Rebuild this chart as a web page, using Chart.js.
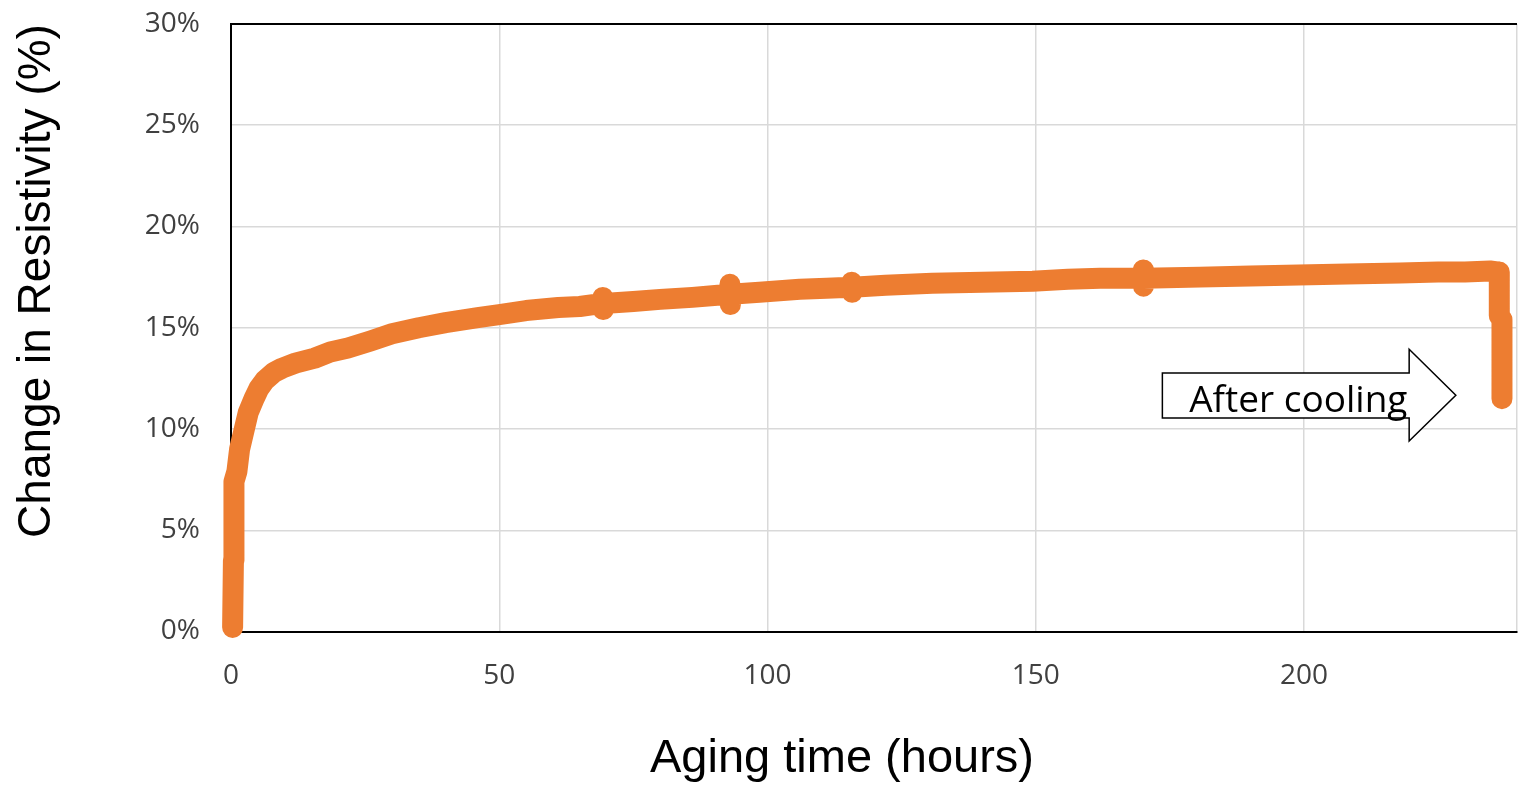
<!DOCTYPE html>
<html>
<head>
<meta charset="utf-8">
<script src="https://cdn.jsdelivr.net/npm/chart.js@4/dist/chart.umd.min.js"></script>
<style>
	html, body { margin: 0; padding: 0; background: #fff; }
	#wrap { width: 1518px; height: 786px; }
</style>
</head>
<body>
<div id="wrap"><canvas id="agingChart" width="1518" height="786"></canvas></div>
<script>
var hours = [0.3, 0.45, 0.55, 1.1, 1.6, 2.4, 3.2, 4.3, 5.2, 6.3, 8.0, 9.5, 12.0, 15.6, 18.5, 21.8, 26.0, 30.0, 35.0, 40.0, 46.0, 50.0, 55.0, 61.0, 65.0,
	69.2, 69.3, 69.35, 69.4, 75.0, 80.0, 86.0, 92.9, 93.0, 93.05, 93.1, 98.5, 106.0, 111.0, 115.6, 115.7, 115.75, 115.8, 122.0, 130.7,
	140.0, 149.4, 156.0, 162.0, 169.9, 170.0, 170.05, 170.1, 180.6, 190.0, 199.0, 208.0, 217.9, 225.0, 230.0, 234.7, 236.4, 236.4, 236.9, 236.9];
var resistivity = [0.2, 3.5, 7.4, 7.9, 9.0, 9.9, 10.8, 11.5, 12.0, 12.4, 12.8, 13.0, 13.25, 13.5, 13.8, 14.0, 14.35, 14.7, 15.0, 15.25, 15.5, 15.65, 15.85, 16.0, 16.05,
	16.2, 16.5, 15.9, 16.2, 16.3, 16.4, 16.5, 16.65, 17.15, 16.15, 16.65, 16.75, 16.9, 16.95, 17.0, 17.25, 16.75, 17.0, 17.1, 17.2,
	17.25, 17.3, 17.4, 17.45, 17.45, 17.85, 17.05, 17.45, 17.5, 17.55, 17.6, 17.65, 17.7, 17.75, 17.75, 17.8, 17.75, 15.6, 15.4, 11.5];
var xTicks = [0, 50, 100, 150, 200];
var yTicks = [0, 5, 10, 15, 20, 25, 30];
var xTitle = "Aging time (hours)";
var yTitle = "Change in Resistivity (%)";
var noteText = "After cooling";

var points = [];
for(var i = 0; i < hours.length; i++){
	points.push({x: hours[i], y: resistivity[i]});
}

// top edge of the plot box, Chart.js only draws left and bottom borders
var framePlugin = {
	id: 'frame',
	beforeDatasetsDraw: function(chart){
		var a = chart.chartArea;
		var ctx = chart.ctx;
		ctx.save();
		ctx.strokeStyle = '#000';
		ctx.lineWidth = 2;
		ctx.beginPath();
		ctx.moveTo(a.left - 1, a.top);
		ctx.lineTo(a.right, a.top);
		ctx.stroke();
		ctx.restore();
	}
};

// block arrow with the "After cooling" note, placed in data units
var arrowPlugin = {
	id: 'arrowNote',
	afterDatasetsDraw: function(chart){
		var xs = chart.scales.x, ys = chart.scales.y;
		var ctx = chart.ctx;
		var left = xs.getPixelForValue(173.6), shaftEnd = xs.getPixelForValue(219.6), tip = xs.getPixelForValue(228.3);
		var top = ys.getPixelForValue(12.76), bottom = ys.getPixelForValue(10.54);
		var headTop = ys.getPixelForValue(13.94), headBottom = ys.getPixelForValue(9.41), mid = ys.getPixelForValue(11.67);
		ctx.save();
		ctx.beginPath();
		ctx.moveTo(left, top);
		ctx.lineTo(shaftEnd, top);
		ctx.lineTo(shaftEnd, headTop);
		ctx.lineTo(tip, mid);
		ctx.lineTo(shaftEnd, headBottom);
		ctx.lineTo(shaftEnd, bottom);
		ctx.lineTo(left, bottom);
		ctx.closePath();
		ctx.fillStyle = '#fff';
		ctx.fill();
		ctx.strokeStyle = '#000';
		ctx.lineWidth = 1.5;
		ctx.stroke();
		ctx.fillStyle = '#000';
		ctx.font = '37px "Open Sans"';
		ctx.textAlign = 'left';
		ctx.textBaseline = 'alphabetic';
		ctx.fillText(noteText, xs.getPixelForValue(178.6), ys.getPixelForValue(10.84));
		ctx.restore();
	}
};

var titlePlugin = {
	id: 'axisTitles',
	afterDraw: function(chart){
		var ctx = chart.ctx;
		ctx.save();
		ctx.fillStyle = '#000';
		ctx.font = '47px "Liberation Sans"';
		ctx.textAlign = 'center';
		ctx.textBaseline = 'alphabetic';
		ctx.fillText(xTitle, 842, 772);
		ctx.translate(50, 281);
		ctx.rotate(-Math.PI / 2);
		ctx.font = '46px "Liberation Sans"';
		ctx.fillText(yTitle, 0, 0);
		ctx.restore();
	}
};

var tickFont = {family: '"Open Sans"', size: 28};

new Chart(document.getElementById('agingChart'), {
	type: 'scatter',
	data: {
		datasets: [{
			label: 'Change in Resistivity',
			data: points,
			showLine: true,
			borderColor: '#ED7D31',
			backgroundColor: '#ED7D31',
			borderWidth: 21,
			borderCapStyle: 'round',
			borderJoinStyle: 'round',
			pointRadius: 0,
			pointBorderWidth: 0,
			tension: 0,
			clip: false
		}]
	},
	options: {
		responsive: false,
		animation: false,
		devicePixelRatio: 1,
		layout: {autoPadding: false, padding: {top: 24, right: 1, left: 0, bottom: 0}},
		plugins: {
			legend: {display: false},
			tooltip: {enabled: false}
		},
		scales: {
			x: {
				type: 'linear',
				min: 0,
				max: 239.7,
				afterFit: function(scale){
					scale.height = 154.5;
					scale.paddingLeft = 0;
					scale.paddingRight = 0;
				},
				afterBuildTicks: function(scale){
					scale.ticks = xTicks.map(function(v){ return {value: v}; }).concat([{value: 239.7}]);
				},
				ticks: {
					font: tickFont,
					color: '#404040',
					padding: 28,
					maxRotation: 0,
					callback: function(v){ return xTicks.indexOf(v) >= 0 ? v : ''; }
				},
				grid: {color: '#d9d9d9', lineWidth: 1.5, drawTicks: false},
				border: {display: true, color: '#000', width: 2}
			},
			y: {
				min: 0,
				max: 30,
				afterFit: function(scale){
					scale.width = 231;
					scale.paddingTop = 0;
					scale.paddingBottom = 0;
				},
				afterBuildTicks: function(scale){
					scale.ticks = yTicks.map(function(v){ return {value: v}; });
				},
				ticks: {
					font: tickFont,
					color: '#404040',
					padding: 31,
					callback: function(v){ return v + '%'; }
				},
				grid: {color: '#d9d9d9', lineWidth: 1.5, drawTicks: false},
				border: {display: true, color: '#000', width: 2}
			}
		}
	},
	plugins: [framePlugin, arrowPlugin, titlePlugin]
});
</script>
</body>
</html>
